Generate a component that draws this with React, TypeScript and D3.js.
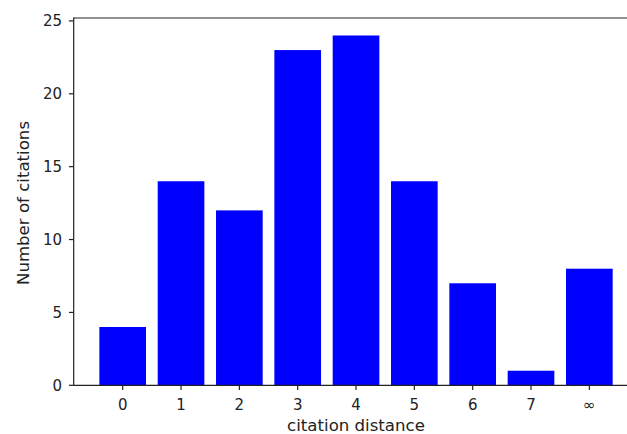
import React from "react";
import * as d3 from "d3";

const categories = ["0", "1", "2", "3", "4", "5", "6", "7", "∞"];
const values = [4, 14, 12, 23, 24, 14, 7, 1, 8];
const yTicks = [0, 5, 10, 15, 20, 25];

const W = 627;
const H = 434;
const FONT = "'DejaVu Sans', sans-serif";
const TICK_FS = 15;
const LABEL_FS = 16.6;

export default function App() {
  const left = 73.7;
  const top = 18;
  const bottom = 385.3;
  const unit = 58.33;
  const x = d3.scaleLinear().domain([-0.84, 8.84]).range([left, left + 9.68 * unit]);
  const yMax = 24 * 1.05;
  const y = d3.scaleLinear().domain([0, yMax]).range([bottom, top]);
  const bw = x(0.8) - x(0);
  const right = x(8.84);

  return (
    <svg
      width={W}
      height={H}
      style={{ position: "absolute", left: 0, top: 0, background: "#fff" }}
      fontFamily={FONT}
    >
      <rect width={W} height={H} fill="#fff" />
      {values.map((v, i) => (
        <rect
          key={i}
          x={x(i) - bw / 2}
          y={y(v)}
          width={bw}
          height={y(0) - y(v)}
          fill="#0000ff"
        />
      ))}
      {/* spines */}
      <line x1={left} x2={left} y1={top - 0.5} y2={bottom + 0.5} stroke="#222" strokeWidth={1.2} />
      <line x1={left} x2={right} y1={bottom} y2={bottom} stroke="#222" strokeWidth={1.2} />
      <line x1={left} x2={right} y1={top} y2={top} stroke="#222" strokeWidth={1.2} />
      {/* y ticks */}
      {yTicks.map((t) => (
        <g key={t}>
          <line x1={left - 4.8} x2={left} y1={y(t)} y2={y(t)} stroke="#222" strokeWidth={1.2} />
          <text x={62} y={y(t)} dy="0.36em" textAnchor="end" fontSize={TICK_FS} fill="#222">
            {t}
          </text>
        </g>
      ))}
      {/* x ticks */}
      {categories.map((c, i) => (
        <g key={c}>
          <line x1={x(i)} x2={x(i)} y1={bottom} y2={bottom + 4.8} stroke="#222" strokeWidth={1.2} />
          <text x={x(i)} y={410} textAnchor="middle" fontSize={TICK_FS} fill="#222">
            {c}
          </text>
        </g>
      ))}
      <text x={(left + right) / 2} y={431} textAnchor="middle" fontSize={LABEL_FS} fill="#222">
        citation distance
      </text>
      <text
        transform={`translate(28.5, 203) rotate(-90)`}
        textAnchor="middle"
        fontSize={LABEL_FS}
        fill="#222"
      >
        Number of citations
      </text>
    </svg>
  );
}
